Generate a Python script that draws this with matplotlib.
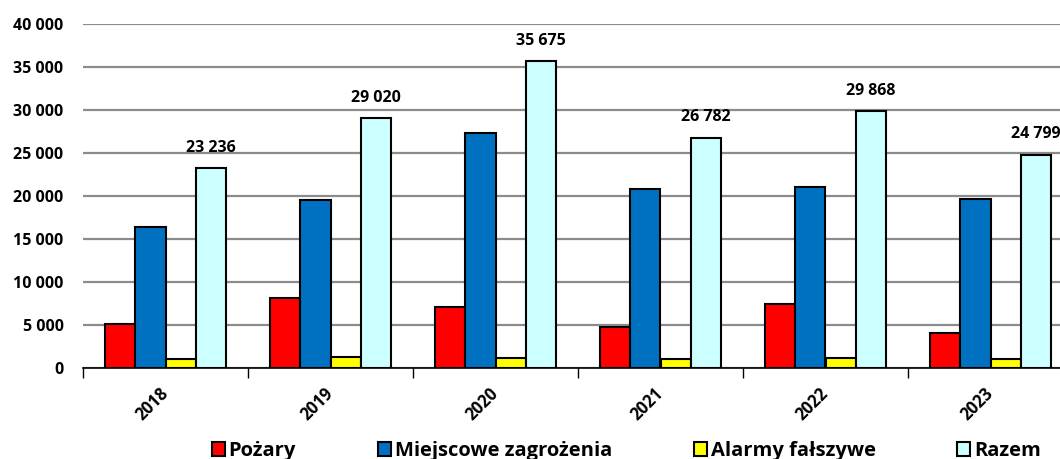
import numpy as np
import matplotlib
matplotlib.use("Agg")
import matplotlib.pyplot as plt
import matplotlib.transforms as mtransforms

# -------- DATA --------
years = ["2018", "2019", "2020", "2021", "2022", "2023"]
pozary = [5080, 8180, 7130, 4770, 7440, 4030]
miejscowe = [16360, 19540, 27290, 20850, 21080, 19610]
alarmy = [1080, 1280, 1200, 1050, 1200, 1050]
razem = [23236, 29020, 35675, 26782, 29868, 24799]

series_names = ["Pożary", "Miejscowe zagrożenia", "Alarmy fałszywe", "Razem"]
series_colors = ["#FF0000", "#0070C0", "#FFFF00", "#CCFFFF"]

# -------- CONFIG --------
FONT = ["Open Sans", "DejaVu Sans"]
plt.rcParams["font.family"] = FONT
plt.rcParams["font.weight"] = "bold"
TICK_SIZE = 11.5

fig = plt.figure(figsize=(10.6, 4.59), dpi=100)
ax = fig.add_axes([83 / 1060, 91 / 459, 990 / 1060, 344 / 459])

x = np.arange(len(years))
bar_w = 0.182
offsets = [-1.5 * bar_w, -0.5 * bar_w, 0.5 * bar_w, 1.5 * bar_w]
all_series = [pozary, miejscowe, alarmy, razem]

bars = []
for vals, off, col, name in zip(all_series, offsets, series_colors, series_names):
    b = ax.bar(x + off, vals, width=bar_w, color=col, edgecolor="black",
               linewidth=1.5, label=name, zorder=3)
    bars.append(b)

# value labels only on "Razem"
for rect, v in zip(bars[3], razem):
    label = f"{v:,}".replace(",", " ")
    ax.annotate(label, (rect.get_x() + rect.get_width() / 2, rect.get_height()),
                xytext=(0, 9), textcoords="offset points",
                ha="center", va="bottom", fontsize=TICK_SIZE, fontweight="bold")

ax.set_xlim(-0.5, len(years) - 0.5)
ax.set_ylim(0, 40000)
ax.set_yticks(np.arange(0, 40001, 5000))
ax.set_yticklabels([f"{v:,}".replace(",", " ") for v in range(0, 40001, 5000)],
                   fontsize=TICK_SIZE, fontweight="bold")
ax.tick_params(axis="y", length=0, pad=14)
ax.grid(axis="y", color="#8c8c8c", linewidth=1.6, zorder=0)

# category boundary ticks + rotated year labels
ax.set_xticks(np.arange(-0.5, len(years), 1.0))
ax.set_xticklabels([])
ax.tick_params(axis="x", which="major", length=7, width=1, color="black", direction="out")
ax.set_xticks(x, minor=True)
ax.set_xticklabels(years, minor=True, rotation=45, ha="right",
                   rotation_mode="anchor", fontsize=12, fontweight="bold")
ax.tick_params(axis="x", which="minor", length=0, pad=12)
shift = mtransforms.ScaledTranslation(-6 / 100, 0, fig.dpi_scale_trans)
for lbl in ax.get_xticklabels(minor=True):
    lbl.set_transform(lbl.get_transform() + shift)

for side in ["left", "right", "top"]:
    ax.spines[side].set_visible(False)
ax.spines["bottom"].set_color("black")
ax.spines["bottom"].set_linewidth(1.2)
ax.spines["bottom"].set_zorder(4)

leg = fig.legend(handles=bars, labels=series_names, loc="center",
                 bbox_to_anchor=(0.591, 8 / 459), ncol=4, frameon=False,
                 prop={"family": FONT, "weight": "bold", "size": 14.5},
                 handlelength=0.65, handleheight=0.65, handletextpad=0.2,
                 columnspacing=4.05, borderaxespad=0)

fig.savefig("out.png", dpi=100)
